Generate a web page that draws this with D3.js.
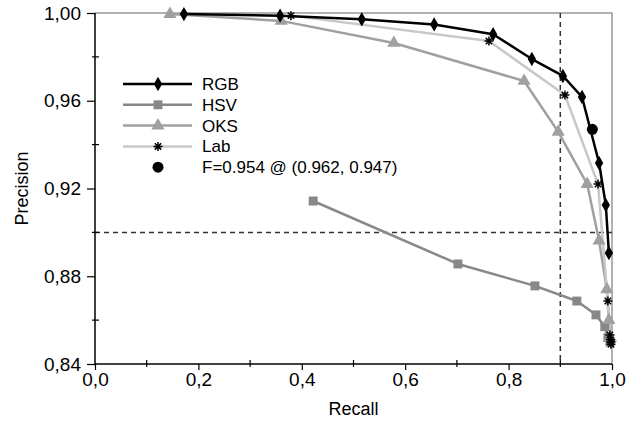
<!DOCTYPE html>
<html>
<head>
<meta charset="utf-8">
<script src="https://cdn.jsdelivr.net/npm/d3@7"></script>
<style>
  body { margin: 0; background: #fff; }
  svg { display: block; }
  text { font-family: "Liberation Sans", Arial, sans-serif; fill: #000; }
</style>
</head>
<body>
<svg id="chart" width="639" height="423"></svg>
<script>
(function() {
  'use strict';

  // precision / recall curves
  var rgbRecall    = [0.172, 0.358, 0.516, 0.656, 0.770, 0.845, 0.905, 0.942, 0.975, 0.988, 0.994];
  var rgbPrecision = [0.9995, 0.9988, 0.9971, 0.9948, 0.9903, 0.979, 0.9713, 0.9617, 0.9316, 0.9125, 0.8906];

  var hsvRecall    = [0.422, 0.702, 0.851, 0.932, 0.969, 0.986, 0.992, 0.996];
  var hsvPrecision = [0.9143, 0.8856, 0.8756, 0.8687, 0.8624, 0.857, 0.852, 0.850];

  var oksRecall    = [0.145, 0.360, 0.578, 0.830, 0.896, 0.952, 0.975, 0.990, 0.994, 0.997];
  var oksPrecision = [0.9995, 0.9964, 0.9863, 0.969, 0.9458, 0.922, 0.8962, 0.874, 0.860, 0.852];

  var labRecall    = [0.379, 0.762, 0.909, 0.973, 0.992, 0.996, 0.997, 0.998, 0.998];
  var labPrecision = [0.9988, 0.9872, 0.9626, 0.922, 0.8687, 0.8532, 0.851, 0.850, 0.849];

  var bestPoint = [0.962, 0.947];
  var bestLabel = 'F=0.954 @ (0.962, 0.947)';

  var xTicks = [0, 0.2, 0.4, 0.6, 0.8, 1.0];
  var xMinor = [0.1, 0.3, 0.5, 0.7, 0.9];
  var yTicks = [0.84, 0.88, 0.92, 0.96, 1.00];
  var yMinor = [0.86, 0.90, 0.94, 0.98];
  var refRecall = 0.9, refPrecision = 0.9;

  var svg = d3.select('#chart');
  var margin = {left: 95, right: 27, top: 13, bottom: 59};
  var width = 639 - margin.left - margin.right;
  var height = 423 - margin.top - margin.bottom;

  var x = d3.scaleLinear().domain([0, 1]).range([0, width]);
  var y = d3.scaleLinear().domain([0.84, 1.0]).range([height, 0]);

  var g = svg.append('g').attr('transform', 'translate(' + margin.left + ',' + margin.top + ')');

  function zip(xs, ys) {
    return xs.map(function(v, i) { return [v, ys[i]]; });
  }

  // frame: gray top/right
  g.append('path')
    .attr('d', 'M0,0H' + width + 'V' + height)
    .attr('fill', 'none').attr('stroke', '#999').attr('stroke-width', 1.5);

  // reference lines
  g.append('line')
    .attr('x1', x(refRecall)).attr('x2', x(refRecall))
    .attr('y1', 0).attr('y2', height)
    .attr('stroke', '#333').attr('stroke-width', 1.5).attr('stroke-dasharray', '5,4');
  g.append('line')
    .attr('x1', 0).attr('x2', width)
    .attr('y1', y(refPrecision)).attr('y2', y(refPrecision))
    .attr('stroke', '#333').attr('stroke-width', 1.5).attr('stroke-dasharray', '5,4');

  var line = d3.line().x(function(d) { return x(d[0]); }).y(function(d) { return y(d[1]); });

  var asterisk = 'M0,-4.5V4.5M-4.5,0H4.5M-3.2,-3.2L3.2,3.2M-3.2,3.2L3.2,-3.2';

  var series = [
    {name: 'HSV', data: zip(hsvRecall, hsvPrecision), color: '#888', width: 2.5,
     marker: d3.symbol().type(d3.symbolSquare).size(80)(), mfill: '#888', mstroke: 'none'},
    {name: 'OKS', data: zip(oksRecall, oksPrecision), color: '#a0a0a0', width: 2.5,
     marker: d3.symbol().type(d3.symbolTriangle).size(75)(), mfill: '#a0a0a0', mstroke: 'none'},
    {name: 'Lab', data: zip(labRecall, labPrecision), color: '#c8c8c8', width: 2.5,
     marker: asterisk, mfill: 'none', mstroke: '#000'},
    {name: 'RGB', data: zip(rgbRecall, rgbPrecision), color: '#000', width: 2.5,
     marker: d3.symbol().type(d3.symbolDiamond).size(60)(), mfill: '#000', mstroke: 'none'}
  ];

  series.forEach(function(s) {
    g.append('path')
      .datum(s.data)
      .attr('d', line)
      .attr('fill', 'none')
      .attr('stroke', s.color)
      .attr('stroke-width', s.width)
      .attr('stroke-linejoin', 'round');
  });
  series.forEach(function(s) {
    g.selectAll('.m-' + s.name)
      .data(s.data)
      .enter().append('path')
      .attr('class', 'm-' + s.name)
      .attr('d', s.marker)
      .attr('transform', function(d) { return 'translate(' + x(d[0]) + ',' + y(d[1]) + ')'; })
      .attr('fill', s.mfill)
      .attr('stroke', s.mstroke)
      .attr('stroke-width', 1.5);
  });

  g.append('circle')
    .attr('cx', x(bestPoint[0])).attr('cy', y(bestPoint[1]))
    .attr('r', 5.5).attr('fill', '#000');

  // axes
  var comma = function(f) { return function(d) { return d3.format(f)(d).replace('.', ','); }; };

  var xAxis = g.append('g').attr('transform', 'translate(0,' + height + ')')
    .call(d3.axisBottom(x).tickValues(xTicks).tickFormat(comma('.1f')).tickSize(6).tickPadding(3));
  var yAxis = g.append('g')
    .call(d3.axisLeft(y).tickValues(yTicks).tickFormat(comma('.2f')).tickSize(8).tickPadding(6));
  [xAxis, yAxis].forEach(function(a) {
    a.select('.domain').attr('stroke', '#000').attr('stroke-width', 1.5);
    a.selectAll('.tick line').attr('stroke', '#000').attr('stroke-width', 1.2);
    a.selectAll('.tick text').style('font-size', '19px').attr('font-family', null);
  });
  xAxis.selectAll('.domain').attr('d', 'M0,0H' + width);
  yAxis.selectAll('.domain').attr('d', 'M0,0V' + height);

  g.selectAll('.xminor').data(xMinor).enter().append('line')
    .attr('x1', function(d) { return x(d); }).attr('x2', function(d) { return x(d); })
    .attr('y1', height - 4).attr('y2', height + 3)
    .attr('stroke', '#000').attr('stroke-width', 1.2);
  g.selectAll('.yminor').data(yMinor).enter().append('line')
    .attr('x1', -3).attr('x2', 4)
    .attr('y1', function(d) { return y(d); }).attr('y2', function(d) { return y(d); })
    .attr('stroke', '#000').attr('stroke-width', 1.2);

  svg.append('text')
    .attr('x', margin.left + width / 2).attr('y', 415)
    .attr('text-anchor', 'middle').style('font-size', '18px').text('Recall');
  svg.append('text')
    .attr('transform', 'translate(28,' + (margin.top + height / 2) + ') rotate(-90)')
    .attr('text-anchor', 'middle').style('font-size', '18px').text('Precision');

  // legend
  var legend = svg.append('g').attr('transform', 'translate(123,84)');
  var legendRows = [series[3], series[0], series[1], series[2]];
  legendRows.forEach(function(s, i) {
    var row = legend.append('g').attr('transform', 'translate(0,' + (i * 20.8) + ')');
    row.append('line').attr('x1', 0).attr('x2', 69).attr('y1', 0).attr('y2', 0)
      .attr('stroke', s.color).attr('stroke-width', s.width);
    row.append('path').attr('d', s.marker).attr('transform', 'translate(35,0)')
      .attr('fill', s.mfill).attr('stroke', s.mstroke).attr('stroke-width', 1.5);
    row.append('text').attr('x', 79).attr('y', 6).style('font-size', '17px').text(s.name);
  });
  var last = legend.append('g').attr('transform', 'translate(0,' + (4 * 20.8) + ')');
  last.append('circle').attr('cx', 35).attr('cy', 0).attr('r', 5.5).attr('fill', '#000');
  last.append('text').attr('x', 79).attr('y', 6).style('font-size', '17px').text(bestLabel);
})();
</script>
</body>
</html>
